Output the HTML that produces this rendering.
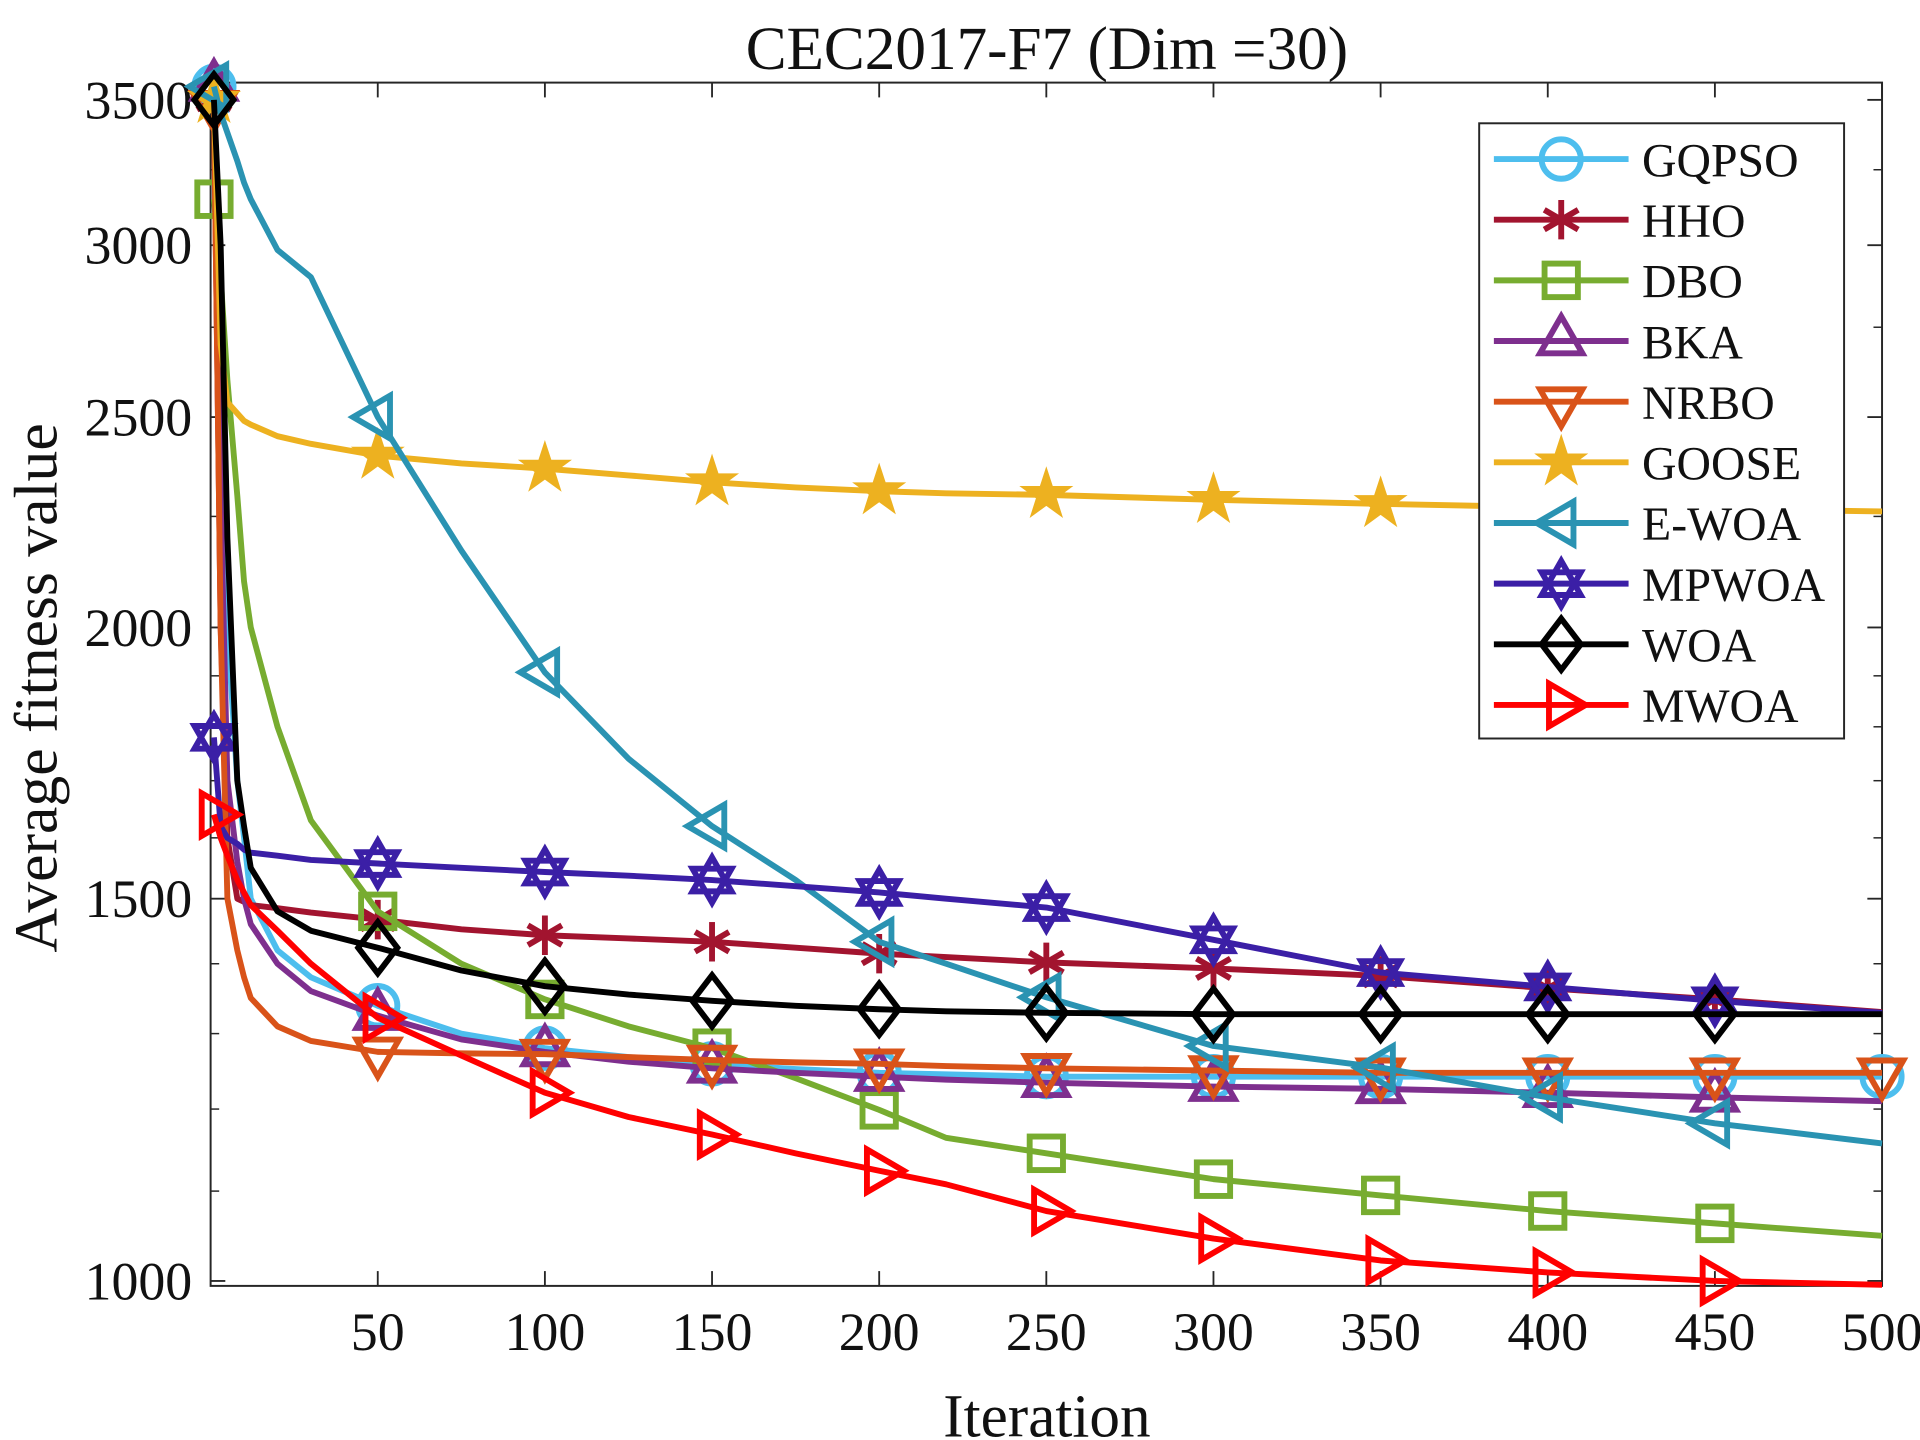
<!DOCTYPE html>
<html><head><meta charset="utf-8"><style>
html,body{margin:0;padding:0;background:#fff;width:1920px;height:1440px;overflow:hidden}
svg{display:block}
text{font-family:"Liberation Serif",serif;fill:#111}
</style></head><body>
<svg id="chart" width="1920" height="1440" viewBox="0 0 1568 1168" preserveAspectRatio="none" xmlns="http://www.w3.org/2000/svg"></svg>
<script>
const iters = [1,3,5,8,10,12,20,30,50,75,100,125,150,175,200,220,250,300,350,400,450,500];
const names = ["GQPSO","HHO","DBO","BKA","NRBO","GOOSE","E-WOA","MPWOA","WOA","MWOA"];
const colors = ["#4dbeee","#a2142f","#77ac30","#7e2f8e","#d95319","#edb120","#2a93b2","#3b1fa6","#000000","#ff0000"];
const markers = ["circle","asterisk","square","tri-up","tri-down","star","tri-left","hexagram","diamond","tri-right"];
const endMarker = [true,false,false,false,true,false,false,false,false,false];
const sGQPSO = [3550,2600,2000,1700,1600,1500,1420,1380,1339,1300,1280,1268,1259,1252,1247,1245,1242,1242,1242,1242,1242,1242];
const sHHO   = [3500,2000,1600,1500,1495,1490,1485,1478,1467,1452,1443,1438,1433,1424,1415,1410,1402,1393,1382,1364,1348,1330];
const sDBO   = [3150,2900,2600,2300,2100,2000,1800,1630,1480,1400,1348,1310,1280,1240,1199,1164,1145,1114,1095,1077,1063,1049];
const sBKA   = [3550,2300,1700,1560,1500,1460,1400,1360,1325,1292,1275,1262,1253,1247,1242,1238,1234,1229,1226,1221,1215,1210];
const sNRBO  = [3480,2000,1500,1420,1380,1350,1310,1290,1275,1273,1272,1268,1264,1261,1259,1256,1253,1250,1247,1247,1247,1247];
const sGOOSE = [3500,2700,2540,2510,2490,2480,2450,2430,2400,2380,2367,2350,2333,2320,2311,2306,2302,2290,2280,2272,2268,2262];
const sEWOA  = [3550,3450,3380,3280,3206,3150,2985,2900,2500,2170,1907,1740,1620,1530,1433,1400,1351,1283,1254,1215,1182,1157];
const sMPWOA = [1780,1620,1600,1590,1580,1575,1570,1563,1557,1550,1543,1537,1530,1520,1510,1500,1486,1436,1387,1366,1346,1329];
const sWOA   = [3500,3000,2200,1700,1620,1550,1480,1450,1424,1390,1367,1355,1346,1339,1334,1331,1329,1327,1327,1327,1327,1327];
const sMWOA  = [1640,1600,1570,1530,1510,1490,1450,1400,1322,1270,1221,1190,1168,1145,1124,1108,1077,1046,1022,1009,1000,996];
const series = [sGQPSO,sHHO,sDBO,sBKA,sNRBO,sGOOSE,sEWOA,sMPWOA,sWOA,sMWOA];
const markerIters = [1,50,100,150,200,250,300,350,400,450];
const xTicks = [50,100,150,200,250,300,350,400,450,500];
const yTicks = [1000,1500,2000,2500,3000,3500];

const L=172,R=1537,T=67,B=1043;
const V0=1000,V1=3500,P0=1039,P1=81;
function xs(v){return L+(v-0)/(500-0)*(R-L);}
function ys(v){return P0-(Math.log10(v)-Math.log10(V0))/(Math.log10(V1)-Math.log10(V0))*(P0-P1);}
const NS="http://www.w3.org/2000/svg";
const svg=document.getElementById('chart');
function mk(tag,attrs,parent){const e=document.createElementNS(NS,tag);for(const k in attrs)e.setAttribute(k,attrs[k]);(parent||svg).appendChild(e);return e;}

const axes=mk('rect',{x:L,y:T,width:R-L,height:B-T,fill:'#fff',stroke:'#262626','stroke-width':1.6});



for(const t of xTicks){
  const x=xs(t);
  mk('line',{x1:x,x2:x,y1:B,y2:B-12,stroke:'#262626','stroke-width':1.5});
  mk('line',{x1:x,x2:x,y1:T,y2:T+12,stroke:'#262626','stroke-width':1.5});
  const tx=mk('text',{x:x,y:B+52,'font-size':44,'text-anchor':'middle'});
  tx.textContent=t;
  
  
}
const minor=[];
for(let v=1100;v<2000;v+=100){ if(v%500!==0) minor.push(v); }
for(let v=2250;v<3500;v+=250){ if(v%500!==0) minor.push(v); }
for(const v of minor){
  const y=ys(v);
  mk('line',{x1:L,x2:L+7,y1:y,y2:y,stroke:'#262626','stroke-width':1.2});
  mk('line',{x1:R,x2:R-7,y1:y,y2:y,stroke:'#262626','stroke-width':1.2});
}
for(const t of yTicks){
  const y=ys(t);
  mk('line',{x1:L,x2:L+12,y1:y,y2:y,stroke:'#262626','stroke-width':1.5});
  mk('line',{x1:R,x2:R-12,y1:y,y2:y,stroke:'#262626','stroke-width':1.5});
  const tx=mk('text',{x:L-15,y:y+15,'font-size':44,'text-anchor':'end'});
  tx.textContent=t;
  
  
}

const SW=4.8;
function drawMarker(type,cx,cy,color,parent,s){
  s=s||16;
  const base={fill:'none',stroke:color,'stroke-width':SW};
  let e;
  if(type==='circle') e=mk('circle',Object.assign({cx,cy,r:s},base),parent);
  else if(type==='square') e=mk('rect',Object.assign({x:cx-s*0.85,y:cy-s*0.85,width:s*1.7,height:s*1.7},base),parent);
  else if(type==='diamond') e=mk('polygon',Object.assign({points:`${cx},${cy-s*1.3} ${cx+s},${cy} ${cx},${cy+s*1.3} ${cx-s},${cy}`},base),parent);
  else if(type.startsWith('tri')){
    const a={'tri-up':-90,'tri-down':90,'tri-left':180,'tri-right':0}[type];
    const p=[];for(let i=0;i<3;i++){const an=(a+i*120)*Math.PI/180;p.push((cx+s*1.25*Math.cos(an))+','+(cy+s*1.25*Math.sin(an)));}
    e=mk('polygon',Object.assign({points:p.join(' ')},base),parent);
  } else if(type==='asterisk'){
    e=mk('g',{},parent);
    for(const ang of [90,30,150]){const an=ang*Math.PI/180;mk('line',{x1:cx-s*Math.cos(an),y1:cy-s*Math.sin(an),x2:cx+s*Math.cos(an),y2:cy+s*Math.sin(an),stroke:color,'stroke-width':SW},e);}
  } else if(type==='star'){
    const p=[];for(let i=0;i<10;i++){const r=i%2?s*0.5:s*1.3;const an=(-90+i*36)*Math.PI/180;p.push((cx+r*Math.cos(an))+','+(cy+r*Math.sin(an)));}
    e=mk('polygon',{points:p.join(' '),fill:color,stroke:color,'stroke-width':1.5},parent);
  } else if(type==='hexagram'){
    e=mk('g',{},parent);
    for(const a0 of [-90,90]){const p=[];for(let i=0;i<3;i++){const an=(a0+i*120)*Math.PI/180;p.push((cx+s*1.15*Math.cos(an))+','+(cy+s*1.15*Math.sin(an)));}
      mk('polygon',Object.assign({points:p.join(' ')},base),e);}
  }
  return e;
}

function valAt(arr,it){
  for(let i=0;i<iters.length-1;i++){ if(it>=iters[i]&&it<=iters[i+1]){const f=(it-iters[i])/(iters[i+1]-iters[i]);return arr[i]+(arr[i+1]-arr[i])*f;} }
  return arr[arr.length-1];
}

series.forEach((arr,k)=>{
  const g=mk('g',{});
  
  
  const d=iters.map((it,i)=>(i?'L':'M')+xs(it).toFixed(1)+','+ys(arr[i]).toFixed(1)).join(' ');
  const p=mk('path',{d,fill:'none',stroke:colors[k],'stroke-width':SW,'stroke-linejoin':'round'},g);
  
  
  const mi=endMarker[k]?markerIters.concat([500]):markerIters;
  for(const it of mi){
    const m=drawMarker(markers[k],xs(it),ys(valAt(arr,it)),colors[k],g);
    
    
  }
});

const lg=mk('g',{});


mk('rect',{x:1208,y:100,width:298,height:499,fill:'#fff',stroke:'#262626','stroke-width':1.6},lg);
names.forEach((n,k)=>{
  const y=129+k*49.2;
  const eg=mk('g',{},lg);
  
  
  mk('line',{x1:1220,x2:1330,y1:y,y2:y,stroke:colors[k],'stroke-width':SW},eg);
  drawMarker(markers[k],1275,y,colors[k],eg);
  const t=mk('text',{x:1341,y:y+14,'font-size':39},eg);
  t.textContent=n;
});

const title=mk('text',{x:855,y:56,'font-size':50,'text-anchor':'middle'});
title.textContent='CEC2017-F7 (Dim =30)';


const xl=mk('text',{x:855,y:1165,'font-size':50,'text-anchor':'middle'});
xl.textContent='Iteration';


const yl=mk('text',{x:0,y:0,'font-size':50,'text-anchor':'middle',transform:'translate(46,558) rotate(-90)'});
yl.textContent='Average fitness value';


</script>
</body></html>
